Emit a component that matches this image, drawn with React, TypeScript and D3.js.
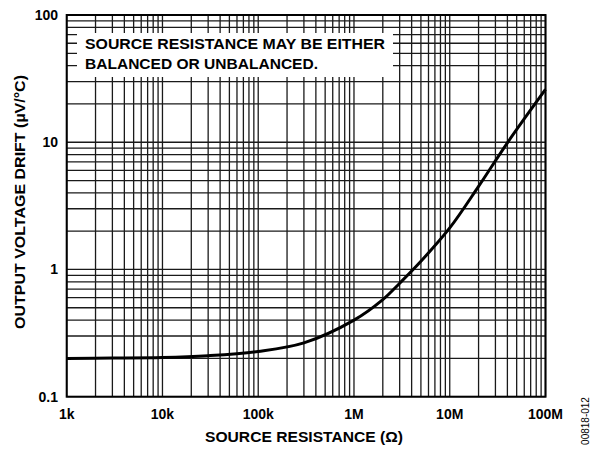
import React from "react";
import * as d3 from "d3";

const resistance = [1e3, 3e3, 1e4, 3e4, 1e5, 3e5, 1e6, 2e6, 3e6, 5e6, 1e7, 2e7, 4e7, 1e8];
const drift = [0.2, 0.201, 0.203, 0.21, 0.227, 0.265, 0.4, 0.58, 0.78, 1.16, 2.12, 4.5, 9.9, 26];
const xTickValues = [1e3, 1e4, 1e5, 1e6, 1e7, 1e8];
const xTickLabels = ["1k", "10k", "100k", "1M", "10M", "100M"];
const yTickValues = [0.1, 1, 10, 100];
const yTickLabels = ["0.1", "1", "10", "100"];
const noteLines = ["SOURCE RESISTANCE MAY BE EITHER", "BALANCED OR UNBALANCED."];
const xTitle = "SOURCE RESISTANCE (Ω)";
const yTitle = "OUTPUT VOLTAGE DRIFT (µV/°C)";
const figId = "00818-012";

const W = 592, H = 449;
const L = 66.7, R = 545.5, T = 15, B = 396.7;
const FONT = "'Liberation Sans', Arial, Helvetica, sans-serif";

export default function App() {
  const x = d3.scaleLog().domain([1e3, 1e8]).range([L, R]);
  const y = d3.scaleLog().domain([0.1, 100]).range([B, T]);

  const xGrid: number[] = [];
  for (let e = 3; e < 8; e++) for (let m = 1; m <= 9; m++) xGrid.push(m * Math.pow(10, e));
  xGrid.push(1e8);
  const yGrid: number[] = [];
  for (let e = -1; e < 2; e++) for (let m = 1; m <= 9; m++) yGrid.push(m * Math.pow(10, e));
  yGrid.push(100);

  const pts: [number, number][] = resistance.map((r, i) => [x(r), y(drift[i])]);
  const line = d3.line().curve(d3.curveCatmullRom.alpha(0.5))(pts) || "";

  return (
    <svg width={W} height={H} style={{ position: "absolute", left: 0, top: 0, background: "#fff" }}>
      <rect x={0} y={0} width={W} height={H} fill="#fff" />
      <g stroke="#1a1a1a" strokeWidth={1.3}>
        {xGrid.map((v, i) => (
          <line key={"vx" + i} x1={x(v)} x2={x(v)} y1={T} y2={B} />
        ))}
        {yGrid.map((v, i) => (
          <line key={"hy" + i} x1={L} x2={R} y1={y(v)} y2={y(v)} />
        ))}
      </g>
      <rect x={77} y={33} width={316} height={44} fill="#fff" />
      <rect x={L} y={T} width={R - L} height={B - T} fill="none" stroke="#000" strokeWidth={2} />
      <path d={line} fill="none" stroke="#000" strokeWidth={3} />
      <g fontFamily={FONT} fontWeight="bold" fill="#000">
        <text x={85} y={48.5} fontSize={14.5} textLength={300} lengthAdjust="spacingAndGlyphs">{noteLines[0]}</text>
        <text x={85} y={68.5} fontSize={14.5} textLength={233} lengthAdjust="spacingAndGlyphs">{noteLines[1]}</text>
        {xTickValues.map((v, i) => (
          <text key={"xt" + i} x={x(v)} y={419} fontSize={14} textAnchor="middle">{xTickLabels[i]}</text>
        ))}
        {yTickValues.map((v, i) => (
          <text key={"yt" + i} x={58} y={y(v) + 5} fontSize={14} textAnchor="end">{yTickLabels[i]}</text>
        ))}
        <text x={304} y={442} fontSize={14.5} textAnchor="middle" textLength={198} lengthAdjust="spacingAndGlyphs">{xTitle}</text>
        <text transform="translate(25,202) rotate(-90)" fontSize={14.5} textAnchor="middle" textLength={254} lengthAdjust="spacingAndGlyphs">{yTitle}</text>
      </g>
      <text transform="translate(589,421) rotate(-90)" fontFamily={FONT} fontSize={10} textAnchor="middle" fill="#000">{figId}</text>
    </svg>
  );
}
